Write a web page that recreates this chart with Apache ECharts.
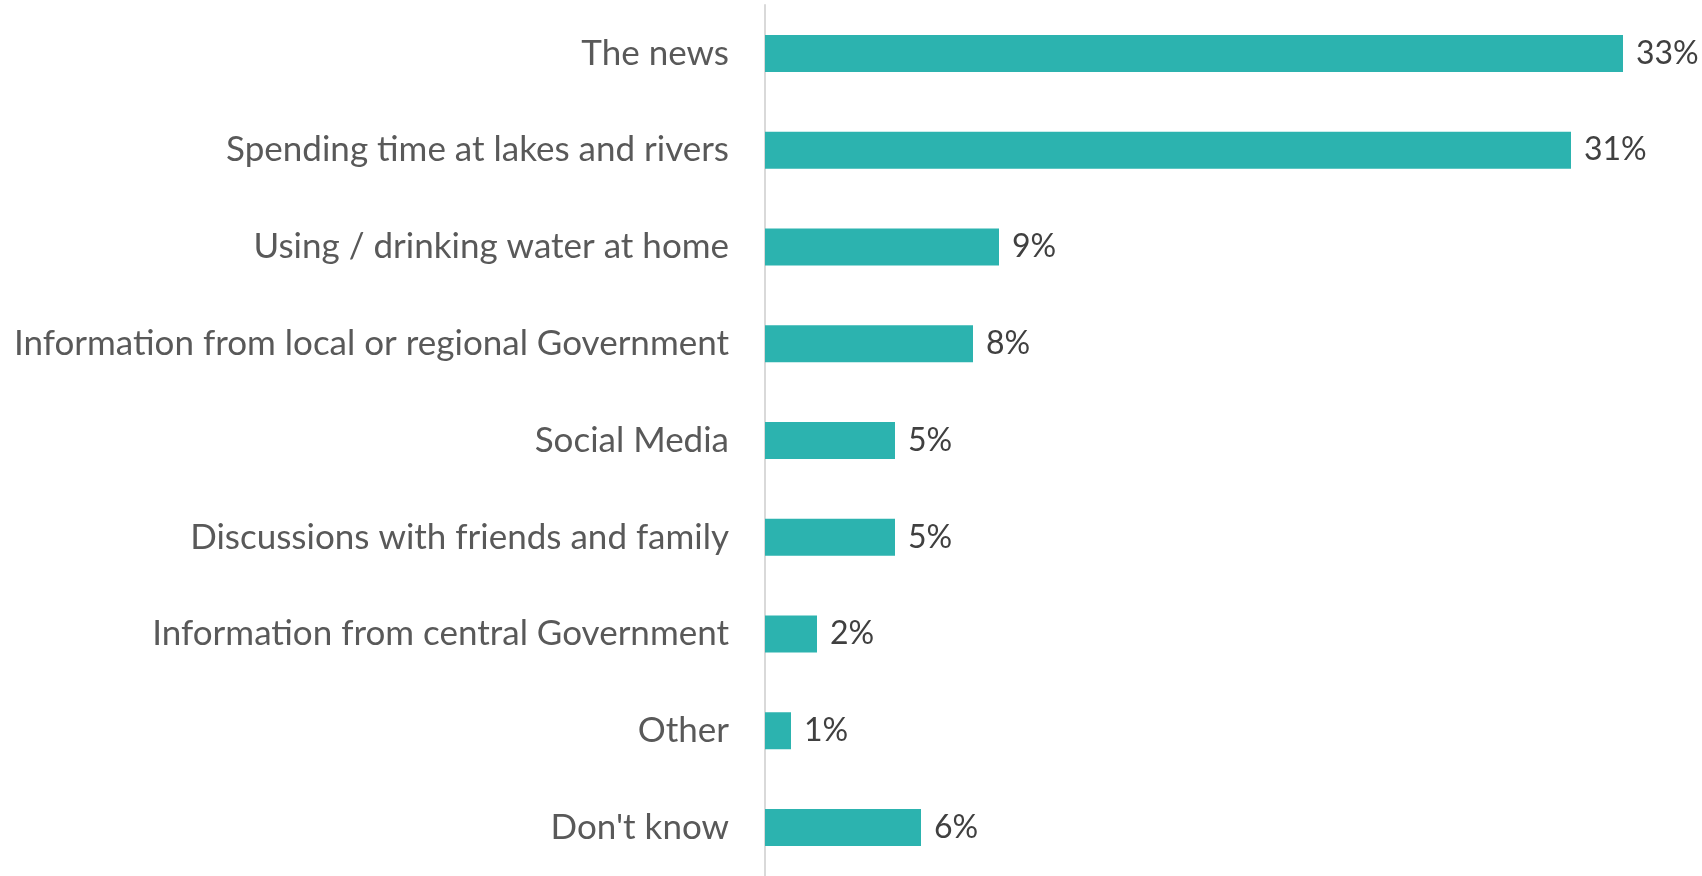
<!DOCTYPE html>
<html>
<head>
<meta charset="utf-8">
<script src="https://cdn.jsdelivr.net/npm/echarts@6/dist/echarts.min.js"></script>
<style>
  html, body { margin: 0; padding: 0; background: #fff; }
  #chart { width: 1702px; height: 876px; }
</style>
</head>
<body>
<div id="chart"></div>
<script>
// Sources of information, share of respondents (%)
const categories = [
  "The news",
  "Spending time at lakes and rivers",
  "Using / drinking water at home",
  "Information from local or regional Government",
  "Social Media",
  "Discussions with friends and family",
  "Information from central Government",
  "Other",
  "Don't know"
];
const values = [33, 31, 9, 8, 5, 5, 2, 1, 6];

const chart = echarts.init(document.getElementById('chart'));
chart.setOption({
  animation: false,
  grid: { left: 765, right: 27, top: 5, bottom: -5, containLabel: false },
  xAxis: {
    type: 'value', min: 0, max: 35,
    show: false
  },
  yAxis: {
    type: 'category',
    data: categories,
    inverse: true,
    axisLine: { show: true, lineStyle: { color: '#d9d9d9', width: 2 } },
    axisTick: { show: false },
    axisLabel: {
      margin: 36,
      color: '#595959',
      fontSize: 35,
      fontFamily: 'Lato',
      padding: [4, 0, 0, 0]
    }
  },
  series: [{
    type: 'bar',
    data: values,
    barWidth: 37,
    itemStyle: { color: '#2cb3af' },
    label: {
      show: true,
      position: 'right',
      distance: 13,
      formatter: '{c}%',
      color: '#404040',
      fontSize: 32,
      fontFamily: 'Lato',
      padding: [4, 0, 0, 0]
    }
  }]
});
</script>
</body>
</html>
